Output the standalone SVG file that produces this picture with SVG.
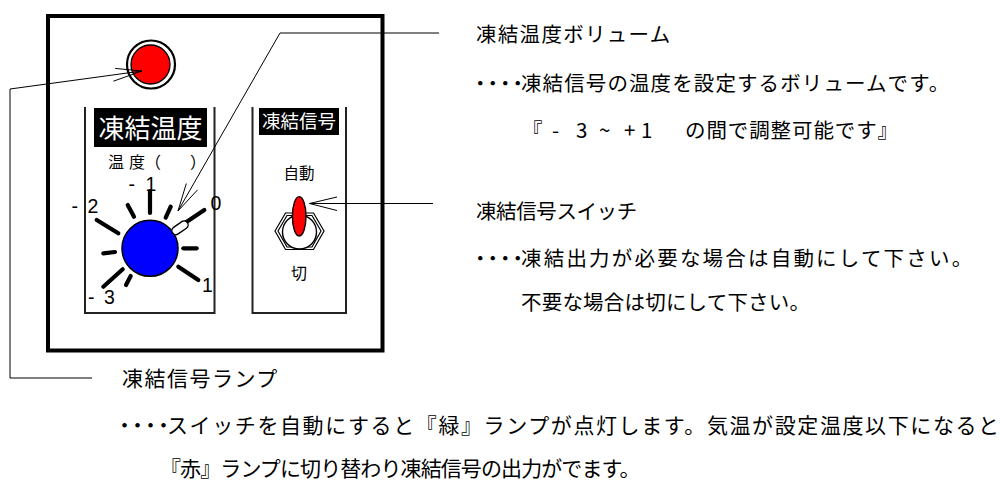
<svg xmlns="http://www.w3.org/2000/svg" width="1003" height="491" viewBox="0 0 1003 491">
  <style>
    text { font-family: "Noto Sans CJK JP", "Noto Sans", sans-serif; fill: #000; }
    .note { font-size: 20.5px; }
    .foot { font-size: 21px; }
    .dots { letter-spacing: -8px; }
    .num { font-family: "Liberation Sans", Arial, sans-serif; font-size: 19.5px; }
    .title { fill: #fff; }
    .lead { fill: none; stroke: #000; stroke-width: 1; }
    .panel { fill: none; stroke: #222; stroke-width: 2; }
    .tick { stroke: #000; stroke-width: 4.2; stroke-linecap: round; }
  </style>

  <rect width="1003" height="491" fill="#fff"/>

  <!-- control panel frame -->
  <g id="panel-frame">
    <rect x="48" y="16" width="334.5" height="334.5" fill="#fff" stroke="#000" stroke-width="4"/>
  </g>

  <!-- signal lamp -->
  <g id="signal-lamp">
    <circle cx="151" cy="64.5" r="24" fill="#fff" stroke="#000" stroke-width="2.2"/>
    <circle cx="150.5" cy="64.5" r="19.5" fill="#f00" stroke="#000" stroke-width="1.3"/>
  </g>

  <!-- temperature volume -->
  <g id="temperature-volume">
    <path class="panel" d="M85 107 V313 H214.5 V107"/>
    <rect x="94" y="108" width="113" height="39" fill="#000"/>
    <text class="title" x="150.5" y="137.5" font-size="26" text-anchor="middle">凍結温度</text>
    <text font-size="16" y="167.5" xml:space="preserve"><tspan x="108">温</tspan> <tspan x="129">度（</tspan>　<tspan x="190">）</tspan></text>
    <text class="num" xml:space="preserve"><tspan x="128.5" y="190.5">-</tspan> <tspan x="145.5" y="190.5">1</tspan></text>
    <text class="num" xml:space="preserve"><tspan x="71.5" y="212.7">-</tspan> <tspan x="87.5" y="212.7">2</tspan></text>
    <text class="num" x="210.5" y="209.5">0</text>
    <text class="num" x="202" y="291.7">1</text>
    <text class="num" xml:space="preserve"><tspan x="88" y="304">-</tspan> <tspan x="104" y="304">3</tspan></text>
    <line class="tick" x1="150" y1="191" x2="150" y2="213"/>
    <line class="tick" x1="127.7" y1="205" x2="134" y2="216.7"/>
    <line class="tick" x1="170.7" y1="206.7" x2="165.7" y2="217.7"/>
    <line class="tick" x1="96.7" y1="220" x2="118.3" y2="233.3"/>
    <line class="tick" x1="204.3" y1="210" x2="176" y2="229"/>
    <line class="tick" x1="103.3" y1="253.3" x2="115" y2="252"/>
    <line class="tick" x1="183.3" y1="248.3" x2="196.7" y2="248.3"/>
    <line class="tick" x1="178.3" y1="266.7" x2="198.3" y2="280"/>
    <line class="tick" x1="103.3" y1="286.7" x2="122.7" y2="269.3"/>
    <line class="tick" x1="126" y1="285" x2="130.7" y2="276"/>
    <circle cx="150" cy="248.3" r="28" fill="#00f" stroke="#000" stroke-width="1.5"/>
    <rect x="-9" y="-4" width="18" height="8" rx="4" fill="#fff" stroke="#000" stroke-width="1.4" transform="translate(180 227.8) rotate(-35)"/>
  </g>

  <!-- freeze signal switch -->
  <g id="signal-switch">
    <path class="panel" d="M252.5 107 V313 H346 V107"/>
    <rect x="259" y="108" width="80" height="27" fill="#000"/>
    <text class="title" x="299" y="128" font-size="18.5" text-anchor="middle">凍結信号</text>
    <text x="299" y="179" font-size="15.5" text-anchor="middle">自動</text>
    <text x="299" y="279" font-size="16" text-anchor="middle">切</text>
    <polygon points="275,231 285.5,213 313.5,213 324,231 313.5,249.5 285.5,249.5" fill="#fff" stroke="#000" stroke-width="1.2"/>
    <polygon points="278,231 287,215.5 312,215.5 321,231 312,247 287,247" fill="none" stroke="#000" stroke-width="1.2"/>
    <circle cx="299.5" cy="232" r="17" fill="#fff" stroke="#000" stroke-width="1.4"/>
    <ellipse cx="299.2" cy="216.3" rx="6.8" ry="19.7" fill="#f00" stroke="#000" stroke-width="1.4"/>
  </g>

  <!-- leader lines -->
  <g id="connectors">
    <polyline class="lead" points="439,33 280,33 178,211"/>
    <polyline class="lead" points="197.5,189.9 178,211 186.3,183.5"/>
    <polyline class="lead" points="433,203.5 309.5,203.5"/>
    <polyline class="lead" points="337,197 309.5,203.5 337,210.5"/>
    <polyline class="lead" points="92,378 10,378 10,89 142,71"/>
    <polyline class="lead" points="115.2,68.4 142,71 113.4,81.2"/>
  </g>

  <!-- descriptions -->
  <g id="volume-note">
    <text class="note" x="476" y="42" letter-spacing="1.3">凍結温度ボリューム</text>
    <text class="note dots" x="470" y="91">・・・・</text>
    <text class="note" x="521" y="91" letter-spacing="1.1">凍結信号の温度を設定するボリュームです。</text>
    <text class="note" y="138" xml:space="preserve"><tspan x="522">『</tspan> <tspan x="552">-</tspan> <tspan x="576">3</tspan> <tspan x="599">~</tspan> <tspan x="624">+</tspan> <tspan x="641">1</tspan>　<tspan x="685" letter-spacing="0.9">の間で調整可能です』</tspan></text>
  </g>
  <g id="switch-note">
    <text class="note" x="476" y="219" letter-spacing="-0.4">凍結信号スイッチ</text>
    <text class="note dots" x="470" y="266">・・・・</text>
    <text class="note" x="521" y="266" letter-spacing="2.2">凍結出力が必要な場合は自動にして下さい。</text>
    <text class="note" x="521" y="310" letter-spacing="0.2">不要な場合は切にして下さい。</text>
  </g>
  <g id="lamp-note">
    <text class="foot" x="122" y="386" letter-spacing="1.5">凍結信号ランプ</text>
    <text class="foot dots" x="114" y="433">・・・・</text>
    <text class="foot" x="167" y="433" letter-spacing="1.6">スイッチを自動にすると『緑』ランプが点灯します。気温が設定温度以下になると</text>
    <text class="foot" x="160" y="476" letter-spacing="-0.9">『赤』ランプに切り替わり凍結信号の出力がでます。</text>
  </g>
</svg>
